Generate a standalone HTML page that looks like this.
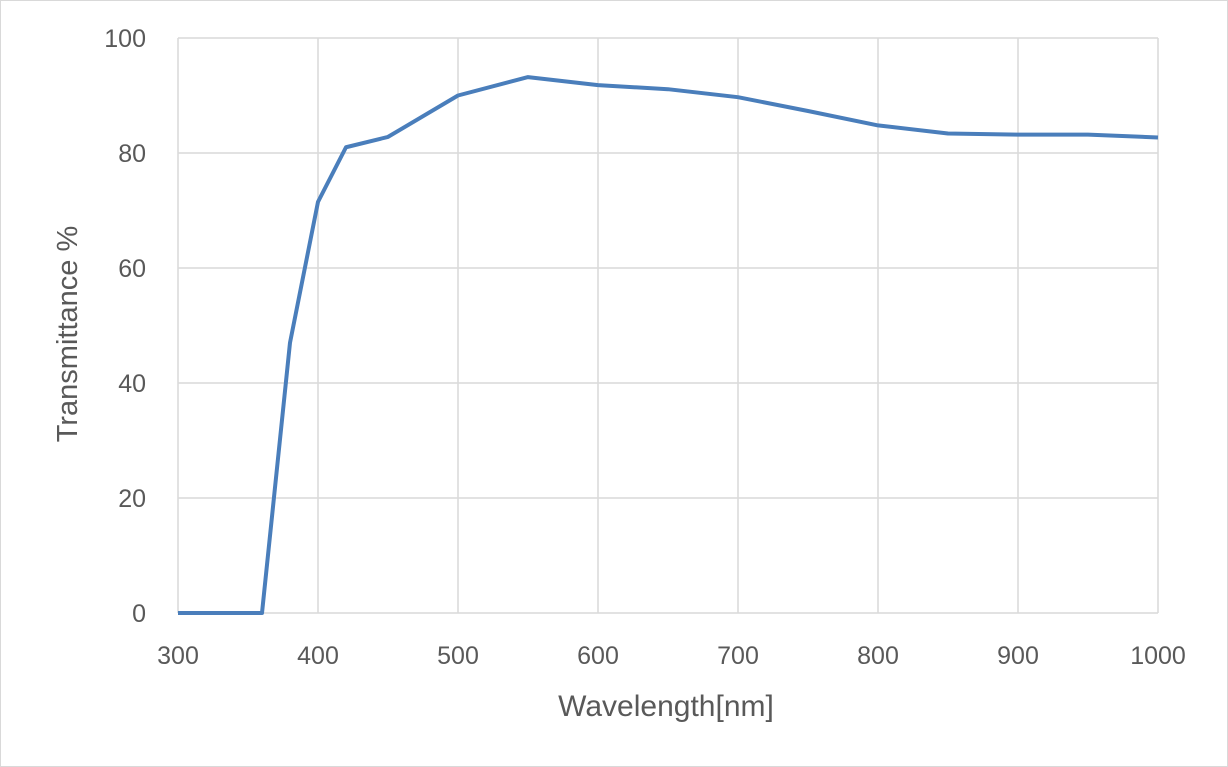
<!DOCTYPE html>
<html><head><style>
html,body{margin:0;padding:0;background:#fff;}
</style></head><body>
<svg width="1228" height="767" xmlns="http://www.w3.org/2000/svg" style="display:block">
<rect x="0.5" y="0.5" width="1227" height="766" fill="#fff" stroke="#d9d9d9"/>
<g stroke="#d9d9d9" stroke-width="1.5">
<line x1="178" y1="38" x2="1158" y2="38"/>
<line x1="178" y1="153" x2="1158" y2="153"/>
<line x1="178" y1="268" x2="1158" y2="268"/>
<line x1="178" y1="383" x2="1158" y2="383"/>
<line x1="178" y1="498" x2="1158" y2="498"/>
<line x1="178" y1="613" x2="1158" y2="613"/>
<line x1="178" y1="38" x2="178" y2="613"/>
<line x1="318" y1="38" x2="318" y2="613"/>
<line x1="458" y1="38" x2="458" y2="613"/>
<line x1="598" y1="38" x2="598" y2="613"/>
<line x1="738" y1="38" x2="738" y2="613"/>
<line x1="878" y1="38" x2="878" y2="613"/>
<line x1="1018" y1="38" x2="1018" y2="613"/>
<line x1="1158" y1="38" x2="1158" y2="613"/>
</g>
<polyline fill="none" stroke="#4a7ebb" stroke-width="4" stroke-linejoin="round" points="178,613 262,613 290,342.75 318,201.9 346,147.25 388,136.9 458,95.5 528,77.1 598,85.15 668,89.2 738,97.2 808,111 878,125.4 948,133.5 1018,134.6 1088,134.6 1158,137.5"/>
<g font-family="Liberation Sans, sans-serif" font-size="25" fill="#595959">
<g text-anchor="end">
<text x="146" y="47">100</text>
<text x="146" y="162">80</text>
<text x="146" y="277">60</text>
<text x="146" y="392">40</text>
<text x="146" y="507">20</text>
<text x="146" y="622">0</text>
</g>
<g text-anchor="middle">
<text x="178" y="664">300</text>
<text x="318" y="664">400</text>
<text x="458" y="664">500</text>
<text x="598" y="664">600</text>
<text x="738" y="664">700</text>
<text x="878" y="664">800</text>
<text x="1018" y="664">900</text>
<text x="1158" y="664">1000</text>
<text x="666" y="716" font-size="30">Wavelength[nm]</text>
<text transform="translate(77,334) rotate(-90)" font-size="29">Transmittance %</text>
</g>
</g>
</svg>
</body></html>
